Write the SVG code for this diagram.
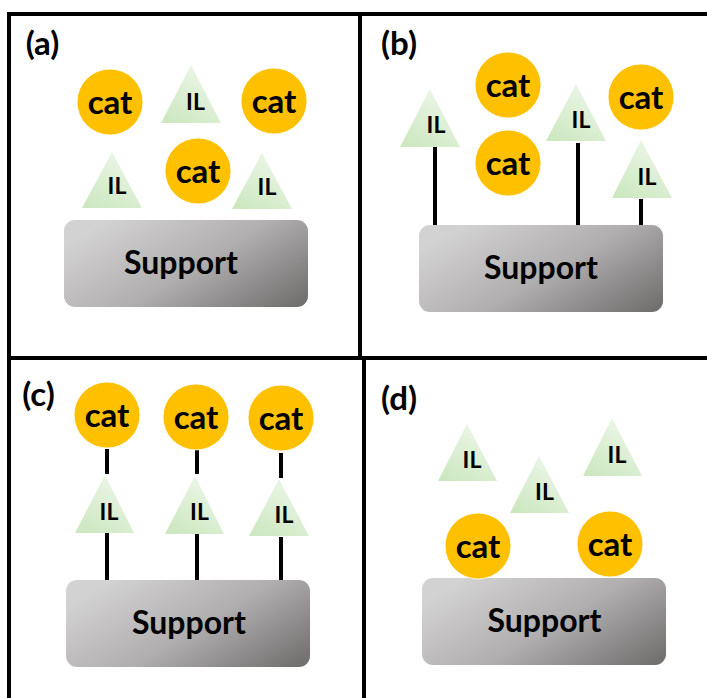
<svg xmlns="http://www.w3.org/2000/svg" width="707" height="698" viewBox="0 0 707 698">
<defs>
<linearGradient id="gTri" x1="0.8" y1="0" x2="0.2" y2="1">
<stop offset="0" stop-color="#eef7ea"/><stop offset="1" stop-color="#cde8c1"/>
</linearGradient>
<linearGradient id="gSup" x1="0" y1="0.3" x2="1" y2="0.9">
<stop offset="0" stop-color="#d3d2d2"/><stop offset="0.5" stop-color="#b0aeae"/><stop offset="1" stop-color="#737070"/>
</linearGradient>
<style>
.cat circle{fill:#ffc000;stroke:#fff;stroke-width:1;stroke-opacity:0.8}
.il polygon{fill:url(#gTri)}
.sup rect{fill:url(#gSup)}
text{font-family:Lato,"Open Sans","Liberation Sans",sans-serif;font-weight:bold;fill:#000;text-anchor:middle}
.cat text{font-size:33px}
.il text{font-size:23px}
.sup text{font-size:32px}
.lbl{font-size:33px}
.frame line{stroke:#000;stroke-width:4}
.conn line{stroke:#000;stroke-width:4}
</style>
</defs>
<rect width="707" height="698" fill="#fff"/>
<g class="frame">
<line x1="7" y1="14" x2="707" y2="14"/>
<line x1="9" y1="12" x2="9" y2="698"/>
<line x1="7" y1="358" x2="707" y2="358"/>
<line x1="360" y1="12" x2="360" y2="358"/>
<line x1="364" y1="358" x2="364" y2="698"/>
</g>
<text class="lbl" x="42.5" y="55">(a)</text>
<text class="lbl" x="399" y="55">(b)</text>
<text class="lbl" x="38.5" y="406">(c)</text>
<text class="lbl" x="399" y="410">(d)</text>

<g class="conn">
<line x1="435" y1="144" x2="435" y2="227"/>
<line x1="578" y1="143" x2="578" y2="227"/>
<line x1="641" y1="199" x2="641" y2="227"/>
<line x1="107" y1="449" x2="107" y2="474"/>
<line x1="107" y1="532" x2="107" y2="581"/>
<line x1="197" y1="450" x2="197" y2="474"/>
<line x1="197" y1="532" x2="197" y2="581"/>
<line x1="281" y1="453" x2="281" y2="478"/>
<line x1="281" y1="537" x2="281" y2="583"/>
</g>

<!-- panel a -->
<g id="a-support" class="sup"><rect x="64" y="220" width="244" height="87" rx="11"/><text x="181" y="273.5">Support</text></g>
<g id="a-cat1" class="cat"><circle cx="110" cy="102" r="33"/><text x="110" y="114">cat</text></g>
<g id="a-cat2" class="cat"><circle cx="274" cy="101" r="33"/><text x="274" y="113">cat</text></g>
<g id="a-cat3" class="cat"><circle cx="198" cy="171" r="33"/><text x="198" y="183">cat</text></g>
<g id="a-il1" class="il"><polygon points="191,65 221,123 161,123"/><text x="195.5" y="110">IL</text></g>
<g id="a-il2" class="il"><polygon points="112,152 142,208 82,208"/><text x="117" y="194">IL</text></g>
<g id="a-il3" class="il"><polygon points="262,153 292,209 232,209"/><text x="267" y="195">IL</text></g>

<!-- panel b -->
<g id="b-support" class="sup"><rect x="419" y="225" width="244" height="87" rx="11"/><text x="541" y="278.5">Support</text></g>
<g id="b-cat1" class="cat"><circle cx="508" cy="85" r="33"/><text x="508" y="97">cat</text></g>
<g id="b-cat2" class="cat"><circle cx="508" cy="163" r="33"/><text x="508" y="175">cat</text></g>
<g id="b-cat3" class="cat"><circle cx="641" cy="97" r="33"/><text x="641" y="109">cat</text></g>
<g id="b-il1" class="il"><polygon points="430,89 460,147 400,147"/><text x="436" y="133">IL</text></g>
<g id="b-il2" class="il"><polygon points="576,84 606,141 546,141"/><text x="581" y="128">IL</text></g>
<g id="b-il3" class="il"><polygon points="641,140 672,198 612,198"/><text x="647" y="185">IL</text></g>

<!-- panel c -->
<g id="c-support" class="sup"><rect x="66" y="580" width="244" height="87" rx="11"/><text x="189" y="633.5">Support</text></g>
<g id="c-cat1" class="cat"><circle cx="107" cy="415" r="33"/><text x="107" y="427">cat</text></g>
<g id="c-cat2" class="cat"><circle cx="196" cy="417" r="33"/><text x="196" y="429">cat</text></g>
<g id="c-cat3" class="cat"><circle cx="281" cy="418" r="33"/><text x="281" y="430">cat</text></g>
<g id="c-il1" class="il"><polygon points="105,475 134,533 75,533"/><text x="109" y="520">IL</text></g>
<g id="c-il2" class="il"><polygon points="195,476 224,534 165,534"/><text x="199.5" y="520">IL</text></g>
<g id="c-il3" class="il"><polygon points="279,479 309,536 249,536"/><text x="284" y="523">IL</text></g>

<!-- panel d -->
<g id="d-support" class="sup"><rect x="422" y="578" width="244" height="87" rx="11"/><text x="544.5" y="631.5">Support</text></g>
<g id="d-il1" class="il"><polygon points="467,424 497,481 438,481"/><text x="472" y="468">IL</text></g>
<g id="d-il2" class="il"><polygon points="539,456 569,513 510,513"/><text x="544.5" y="500">IL</text></g>
<g id="d-il3" class="il"><polygon points="612,418 642,476 583,476"/><text x="617" y="463">IL</text></g>
<g id="d-cat1" class="cat"><circle cx="478" cy="546" r="33"/><text x="478" y="558">cat</text></g>
<g id="d-cat2" class="cat"><circle cx="610" cy="544" r="33"/><text x="610" y="556">cat</text></g>
</svg>
